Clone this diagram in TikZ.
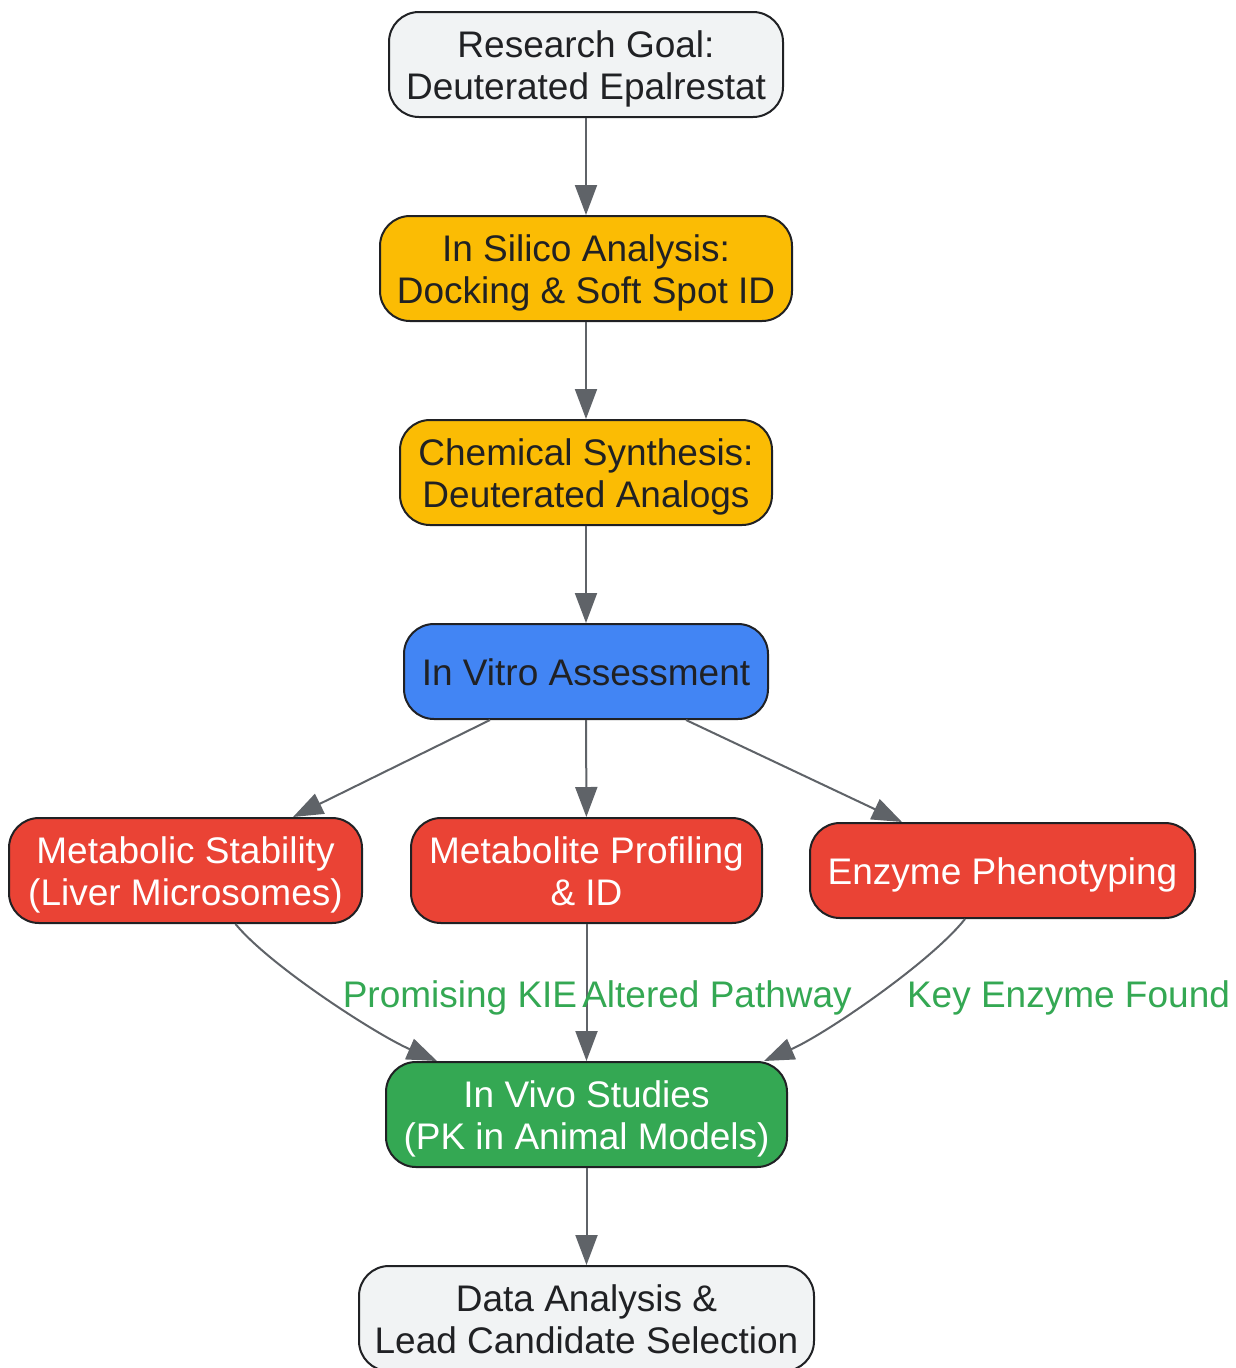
\documentclass[tikz,border=0pt]{standalone}
\usepackage{fontspec}
\setmainfont{Liberation Sans}
\usetikzlibrary{arrows.meta}
\definecolor{gfill}{HTML}{F1F3F4}
\definecolor{yfill}{HTML}{FBBC04}
\definecolor{bfill}{HTML}{4285F4}
\definecolor{rfill}{HTML}{EA4335}
\definecolor{grfill}{HTML}{34A853}
\definecolor{txt}{HTML}{202124}
\definecolor{edge}{HTML}{5F6368}
\definecolor{lbl}{HTML}{34A853}
\newcommand{\boxtxt}[1]{\raisebox{0pt}[\dimexpr\height+12pt\relax][\depth]{\begin{tabular}{@{}c@{}}#1\end{tabular}}}
\tikzset{
  box/.style={draw=txt, line width=2pt, rounded corners=30pt, inner sep=0pt,
    font=\fontsize{37}{42}\selectfont, text=txt},
  whitetext/.style={text=white},
  conn/.style={draw=edge, line width=2pt, -{Triangle[length=30pt,width=22pt]}},
  elabel/.style={font=\fontsize{37}{42}\selectfont, text=lbl, inner sep=0pt, anchor=base}
}
\begin{document}
\begin{tikzpicture}[x=1pt,y=-1pt]
\useasboundingbox[fill=white] (0,0) rectangle (1236,1368);
\node[box, fill=gfill, minimum width=394pt, minimum height=105pt] (goal) at (586,64.5) {\boxtxt{Research Goal:\\Deuterated Epalrestat}};
\node[box, fill=yfill, minimum width=412pt, minimum height=105pt] (silico) at (586,268.5) {\boxtxt{In Silico Analysis:\\Docking \& Soft Spot ID}};
\node[box, fill=yfill, minimum width=372pt, minimum height=105pt] (synth) at (586,472.5) {\boxtxt{Chemical Synthesis:\\Deuterated Analogs}};
\node[box, fill=bfill, minimum width=364pt, minimum height=95pt] (vitro) at (586,671.5) {\boxtxt{In Vitro Assessment}};
\node[box, fill=rfill, whitetext, minimum width=353pt, minimum height=105pt] (stab) at (185.5,870.5) {\boxtxt{Metabolic Stability\\(Liver Microsomes)}};
\node[box, fill=rfill, whitetext, minimum width=351pt, minimum height=105pt] (prof) at (586.5,870.5) {\boxtxt{Metabolite Profiling\\\& ID}};
\node[box, fill=rfill, whitetext, minimum width=385pt, minimum height=95pt] (enz) at (1002.5,870.5) {\boxtxt{Enzyme Phenotyping}};
\node[box, fill=grfill, whitetext, minimum width=401pt, minimum height=105pt] (vivo) at (586.5,1114.5) {\boxtxt{In Vivo Studies\\(PK in Animal Models)}};
\node[box, fill=gfill, minimum width=455pt, minimum height=105pt] (data) at (586.5,1318.5) {\boxtxt{Data Analysis \&\\Lead Candidate Selection}};

\draw[conn] (goal) -- (silico);
\draw[conn] (silico) -- (synth);
\draw[conn] (synth) -- (vitro);
\draw[conn] ([xshift=-96pt]vitro.south) -- ([xshift=-293.5pt]prof.north);
\draw[conn] (vitro) -- (prof);
\draw[conn] ([xshift=100pt]vitro.south) -- ([xshift=-100.5pt]enz.north);
\draw[conn] ([xshift=50pt]stab.south) .. controls (270,966) and (377,1035) .. ([xshift=-149.5pt]vivo.north);
\draw[conn] (prof) -- (vivo);
\draw[conn] ([xshift=-37.5pt]enz.south) .. controls (930,963) and (824,1035) .. ([xshift=177.5pt]vivo.north);
\draw[conn] (vivo) -- (data);

\node[elabel] (l1) at (460,1007) {Promising KIE};
\node[elabel] (l2) at (717,1007) {Altered Pathway};
\node[elabel] (l3) at (1068.5,1007) {Key Enzyme Found};
\end{tikzpicture}
\end{document}
